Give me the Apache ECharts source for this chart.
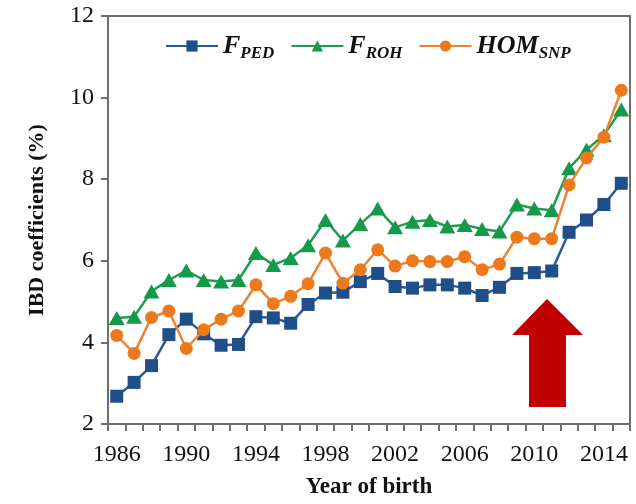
<!DOCTYPE html>
<html>
<head>
<meta charset="utf-8">
<script src="https://cdn.jsdelivr.net/npm/echarts@6/dist/echarts.min.js"></script>
<style>
  html, body { margin: 0; padding: 0; background: #fff; }
  #chart { width: 636px; height: 504px; }
</style>
</head>
<body>
<div id="chart"></div>
<script>
const years = []
for (let y = 1986; y <= 2015; y++) years.push(String(y))

const fPed = [2.68, 3.02, 3.43, 4.19, 4.57, 4.21, 3.93, 3.95, 4.63, 4.60,
  4.47, 4.93, 5.21, 5.23, 5.49, 5.69, 5.37, 5.33, 5.41, 5.41,
  5.33, 5.15, 5.35, 5.69, 5.71, 5.75, 6.70, 7.00, 7.38, 7.90]
const fRoh = [4.60, 4.63, 5.25, 5.53, 5.76, 5.53, 5.49, 5.53, 6.19, 5.90,
  6.07, 6.38, 7.00, 6.50, 6.90, 7.28, 6.82, 6.96, 7.00, 6.84,
  6.88, 6.78, 6.72, 7.38, 7.28, 7.24, 8.27, 8.72, 9.08, 9.71]
const homSnp = [4.17, 3.73, 4.61, 4.77, 3.85, 4.31, 4.57, 4.77, 5.41, 4.95,
  5.13, 5.44, 6.19, 5.45, 5.78, 6.27, 5.87, 6.00, 5.98, 5.98,
  6.10, 5.78, 5.92, 6.58, 6.54, 6.54, 7.86, 8.52, 9.03, 10.18]

const legendText = {
  FPED: '{m|F}{s|PED}',
  FROH: '{m|F}{s|ROH}',
  HOMSNP: '{m|HOM}{s|SNP}'
}

const chart = echarts.init(document.getElementById('chart'))
const serif = 'Liberation Serif, Times New Roman, serif'
const axisColor = '#6e6e6e'

chart.setOption({
  animation: false,
  grid: {
    left: 108, right: 6, top: 16, bottom: 73,
    show: true, borderColor: axisColor, borderWidth: 2
  },
  legend: {
    left: 160, top: 28,
    itemWidth: 52, itemHeight: 14, itemGap: 16,
    data: ['FPED', 'FROH', 'HOMSNP'],
    formatter: name => legendText[name],
    textStyle: {
      rich: {
        m: { fontFamily: serif, fontStyle: 'italic', fontWeight: 'bold', fontSize: 26, color: '#111' },
        s: { fontFamily: serif, fontStyle: 'italic', fontWeight: 'bold', fontSize: 17, color: '#111', padding: [16, 0, 0, 0] }
      }
    }
  },
  xAxis: {
    type: 'category',
    data: years,
    boundaryGap: true,
    name: 'Year of birth',
    nameLocation: 'middle',
    nameGap: 52,
    nameTextStyle: { fontFamily: serif, fontWeight: 'bold', fontSize: 23, color: '#111' },
    axisLine: { lineStyle: { color: axisColor, width: 2 } },
    axisTick: { show: true, interval: 0, length: 7, lineStyle: { color: axisColor, width: 2 } },
    axisLabel: { interval: 3, fontFamily: serif, fontSize: 24, color: '#111', margin: 19 },
    splitLine: { show: false }
  },
  yAxis: {
    type: 'value',
    min: 2, max: 12, interval: 2,
    name: 'IBD coefficients (%)',
    nameLocation: 'middle',
    nameGap: 60,
    nameTextStyle: { fontFamily: serif, fontWeight: 'bold', fontSize: 22, color: '#111' },
    axisLine: { show: true, lineStyle: { color: axisColor, width: 2 } },
    axisTick: { show: true, length: 7, lineStyle: { color: axisColor, width: 2 } },
    axisLabel: { fontFamily: serif, fontSize: 24, color: '#111', margin: 14 },
    splitLine: { show: false }
  },
  series: [
    {
      name: 'FPED', type: 'line', data: fPed,
      symbol: 'rect', symbolSize: 13, showAllSymbol: true,
      itemStyle: { color: '#1f4e89' },
      lineStyle: { color: '#2a5a96', width: 2.5 },
      z: 3
    },
    {
      name: 'FROH', type: 'line', data: fRoh,
      symbol: 'triangle', symbolSize: [16, 14], showAllSymbol: true,
      itemStyle: { color: '#16994a' },
      lineStyle: { color: '#1d9e50', width: 2.5 },
      z: 2
    },
    {
      name: 'HOMSNP', type: 'line', data: homSnp,
      symbol: 'circle', symbolSize: 13, showAllSymbol: true,
      itemStyle: { color: '#ec7a1c' },
      lineStyle: { color: '#ef8230', width: 2.5 },
      z: 4
    }
  ],
  graphic: [
    {
      // red arrow annotation
      type: 'polygon',
      shape: {
        points: [[547, 299], [583, 335], [566, 335], [566, 407], [529, 407], [529, 335], [512, 335]]
      },
      style: { fill: '#c00000' },
      z: 10
    }
  ]
})
</script>
</body>
</html>
